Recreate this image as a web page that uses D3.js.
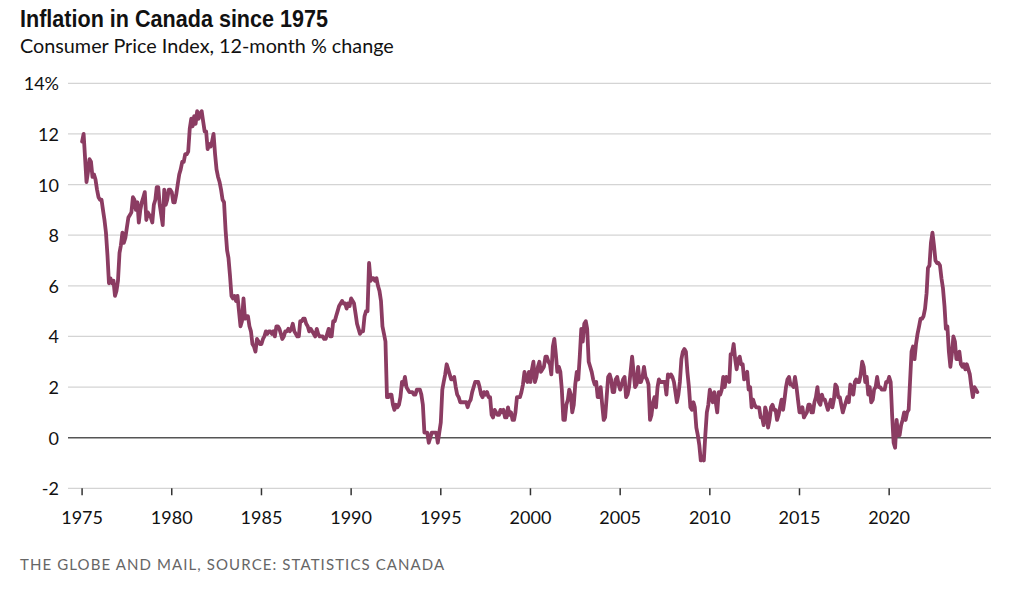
<!DOCTYPE html>
<html>
<head>
<meta charset="utf-8">
<script src="https://cdn.jsdelivr.net/npm/d3@7"></script>
<style>
  html, body { margin: 0; padding: 0; background: #fff; }
  svg { display: block; }
  .title { font-family: "Liberation Sans Narrow", "Liberation Sans", sans-serif; font-weight: bold; font-size: 24px; fill: #111; }
  .subtitle { font-family: Lato, "Open Sans", sans-serif; font-size: 19.8px; fill: #111; }
  .tick-label { font-family: Lato, "Open Sans", sans-serif; font-size: 18px; fill: #111; }
  .source { font-family: Lato, "Open Sans", sans-serif; font-size: 15px; fill: #666; letter-spacing: 1.1px; }
</style>
</head>
<body>
<svg id="chart" width="1024" height="600"></svg>
<script>
// ---- Data: Canada CPI, 12-month % change, monthly, Jan 1975 – Dec 2024 ----
const cpiYears = [1975,1976,1977,1978,1979,1980,1981,1982,1983,1984,1985,1986,1987,1988,1989,
  1990,1991,1992,1993,1994,1995,1996,1997,1998,1999,2000,2001,2002,2003,2004,2005,2006,2007,2008,2009,
  2010,2011,2012,2013,2014,2015,2016,2017,2018,2019,2020,2021,2022,2023,2024];
const cpiMonthly = [
  [11.7,12.0,11.1,10.1,10.5,11.0,10.9,10.3,10.4,10.2,9.8,9.5],   // 1975
  [9.4,9.4,9.0,8.6,8.1,7.2,6.1,6.3,6.1,6.2,5.6,5.8],            // 1976
  [6.2,7.3,7.6,8.1,7.7,7.9,8.3,8.7,8.8,8.9,9.5,9.4],            // 1977
  [9.0,9.3,8.5,9.0,9.3,9.5,9.7,8.6,8.9,8.8,8.7,8.5],            // 1978
  [9.2,9.4,9.9,9.9,9.2,8.8,8.4,9.8,9.2,9.4,9.8,9.8],            // 1979
  [9.7,9.3,9.3,9.6,10.0,10.4,10.6,10.9,10.9,11.2,11.2,11.3],    // 1980
  [12.2,12.6,12.3,12.7,12.4,12.9,12.6,12.8,12.9,12.5,12.1,12.1],// 1981
  [11.4,11.6,11.5,11.7,12.0,11.2,10.6,10.3,10.1,9.8,9.4,9.3],   // 1982
  [8.2,7.4,7.1,6.4,5.6,5.5,5.6,5.4,5.6,5.0,4.4,4.6],            // 1983
  [5.5,4.7,4.8,4.8,4.4,4.2,3.7,3.6,3.4,3.9,3.8,3.7],            // 1984
  [3.7,3.9,4.0,4.2,4.1,4.2,4.2,4.1,4.2,4.0,4.4,4.4],            // 1985
  [4.3,4.1,3.9,4.0,4.2,4.2,4.3,4.2,4.3,4.5,4.2,4.1],            // 1986
  [4.0,4.0,4.6,4.6,4.7,4.7,4.5,4.4,4.2,4.3,4.2,4.1],            // 1987
  [4.0,4.3,4.1,4.0,4.0,4.0,3.9,3.9,4.1,4.3,4.0,4.0],            // 1988
  [4.6,4.6,4.8,5.0,5.2,5.3,5.4,5.3,5.3,5.1,5.3,5.2],            // 1989
  [5.5,5.4,5.3,4.9,4.5,4.3,4.1,4.2,4.2,4.8,5.0,5.0],            // 1990
  [6.9,6.2,6.3,6.3,6.2,6.3,6.0,5.8,5.4,4.4,4.1,3.8],            // 1991
  [1.6,1.6,1.7,1.7,1.3,1.1,1.3,1.2,1.3,1.6,2.2,2.1],            // 1992
  [2.4,2.0,1.9,1.8,1.8,1.8,1.7,1.7,1.9,1.9,1.9,1.7],            // 1993
  [1.3,0.2,0.2,0.2,-0.2,0.0,0.2,0.2,0.2,0.2,-0.2,0.2],          // 1994
  [0.6,1.9,2.2,2.5,2.9,2.7,2.5,2.3,2.3,2.4,2.0,1.7],            // 1995
  [1.6,1.4,1.4,1.4,1.4,1.4,1.2,1.4,1.5,1.8,2.0,2.2],            // 1996
  [2.2,2.2,2.0,1.7,1.6,1.8,1.7,1.8,1.6,1.6,0.9,0.8],            // 1997
  [1.1,1.0,0.9,0.9,1.1,1.0,1.1,0.8,0.8,1.2,0.9,1.0],            // 1998
  [0.7,0.7,1.0,1.6,1.6,1.6,1.8,2.1,2.6,2.3,2.2,2.6],            // 1999
  [2.2,2.7,3.0,2.2,2.4,2.8,3.0,2.6,2.7,2.8,3.2,3.2],            // 2000
  [3.0,2.9,2.5,3.6,3.9,3.3,2.6,2.8,2.6,1.9,0.7,0.7],            // 2001
  [1.3,1.5,1.9,1.7,1.0,1.3,2.1,2.6,2.3,3.2,4.3,3.8],            // 2002
  [4.5,4.6,4.3,3.0,2.8,2.6,2.3,2.1,2.2,1.6,1.6,2.0],            // 2003
  [1.3,0.7,0.8,1.6,2.4,2.5,2.3,1.8,1.8,2.3,2.4,2.1],            // 2004
  [1.9,2.1,2.3,2.4,1.6,1.7,2.0,2.6,3.2,2.6,2.0,2.1],            // 2005
  [2.8,2.2,2.2,2.4,2.8,2.4,2.3,2.1,0.7,0.9,1.4,1.6],            // 2006
  [1.2,2.0,2.3,2.2,2.2,2.2,2.2,1.7,2.5,2.4,2.5,2.4],            // 2007
  [2.2,1.8,1.4,1.7,2.2,3.1,3.4,3.5,3.4,2.6,2.0,1.2],            // 2008
  [1.1,1.4,1.2,0.4,0.1,-0.3,-0.9,-0.8,-0.9,0.1,1.0,1.3],        // 2009
  [1.9,1.6,1.4,1.8,1.4,1.0,1.8,1.7,1.9,2.4,2.0,2.4],            // 2010
  [2.3,2.2,3.3,3.3,3.7,3.1,2.7,3.1,3.2,2.9,2.9,2.3],            // 2011
  [2.5,2.6,1.9,2.0,1.2,1.5,1.3,1.2,1.2,1.2,0.8,0.8],            // 2012
  [0.5,1.2,1.0,0.4,0.7,1.2,1.3,1.1,1.1,0.7,0.9,1.2],            // 2013
  [1.5,1.1,1.5,2.0,2.3,2.4,2.1,2.1,2.0,2.4,2.0,1.5],            // 2014
  [1.0,1.0,1.2,0.8,0.9,1.0,1.3,1.3,1.0,1.0,1.4,1.6],            // 2015
  [2.0,1.4,1.3,1.7,1.5,1.5,1.3,1.1,1.3,1.5,1.2,1.5],            // 2016
  [2.1,2.0,1.6,1.6,1.3,1.0,1.2,1.4,1.6,1.4,2.1,1.9],            // 2017
  [1.7,2.2,2.3,2.2,2.2,2.5,3.0,2.8,2.2,2.4,1.7,2.0],            // 2018
  [1.4,1.5,1.9,2.0,2.4,2.0,2.0,1.9,1.9,1.9,2.2,2.2],            // 2019
  [2.4,2.2,0.9,-0.2,-0.4,0.7,0.1,0.1,0.5,0.7,1.0,0.7],          // 2020
  [1.0,1.1,2.2,3.4,3.6,3.1,3.7,4.1,4.4,4.7,4.7,4.8],            // 2021
  [5.1,5.7,6.7,6.8,7.7,8.1,7.6,7.0,6.9,6.9,6.8,6.3],            // 2022
  [5.9,5.2,4.3,4.4,3.4,2.8,3.3,4.0,3.8,3.1,3.1,3.4],            // 2023
  [2.9,2.8,2.9,2.7,2.9,2.7,2.5,2.0,1.6,2.0,1.9,1.8]             // 2024
];
const xTickYears = [1975,1980,1985,1990,1995,2000,2005,2010,2015,2020];
const yTickValues = [-2,0,2,4,6,8,10,12,14];
const titleText = "Inflation in Canada since 1975";
const subtitleText = "Consumer Price Index, 12-month % change";
const sourceText = "THE GLOBE AND MAIL, SOURCE: STATISTICS CANADA";

// ---- Build series ----
const series = [];
cpiMonthly.forEach((months, yi) => {
  months.forEach((v, m) => series.push({ date: new Date(cpiYears[yi], m, 1), value: v }));
});

const svg = d3.select("#chart");
svg.append("rect").attr("width", 1024).attr("height", 600).attr("fill", "#fff");

const x = d3.scaleTime()
  .domain([new Date(1974, 2, 20), new Date(2025, 8, 5)])
  .range([68, 991]);
const y = d3.scaleLinear().domain([-2, 14]).range([488.3, 83.3]);

// Title / subtitle
svg.append("text").attr("class", "title").attr("x", 20).attr("y", 27)
  .attr("textLength", 308).attr("lengthAdjust", "spacingAndGlyphs").text(titleText);
svg.append("text").attr("class", "subtitle").attr("x", 20).attr("y", 53).text(subtitleText);

// Grid lines
const grid = svg.append("g");
grid.selectAll("line").data(yTickValues).join("line")
  .attr("x1", 68).attr("x2", 991)
  .attr("y1", d => y(d)).attr("y2", d => y(d))
  .attr("stroke", d => d === 0 ? "#555" : "#d4d4d4")
  .attr("stroke-width", d => d === 0 ? 1.6 : 1.2);

// Y labels
svg.append("g").selectAll("text").data(yTickValues).join("text")
  .attr("class", "tick-label")
  .attr("x", 59).attr("y", d => y(d) + 7)
  .attr("text-anchor", "end")
  .text(d => d === 14 ? "14%" : String(d));

// X axis ticks
const xAxis = svg.append("g");
xAxis.selectAll("line").data(xTickYears).join("line")
  .attr("x1", d => x(new Date(d, 0, 1))).attr("x2", d => x(new Date(d, 0, 1)))
  .attr("y1", y(-2)).attr("y2", y(-2) + 7)
  .attr("stroke", "#333").attr("stroke-width", 1.5);
xAxis.selectAll("text").data(xTickYears).join("text")
  .attr("class", "tick-label")
  .attr("x", d => x(new Date(d, 0, 1))).attr("y", 524)
  .attr("text-anchor", "middle")
  .text(d => d);

// Line
const line = d3.line().x(d => x(d.date)).y(d => y(d.value));
svg.append("path").datum(series)
  .attr("d", line)
  .attr("fill", "none")
  .attr("stroke", "#8b3c62")
  .attr("stroke-width", 3.8)
  .attr("stroke-linejoin", "round")
  .attr("stroke-linecap", "round");

// Source
svg.append("text").attr("class", "source").attr("x", 20).attr("y", 570).text(sourceText);
</script>
</body>
</html>
